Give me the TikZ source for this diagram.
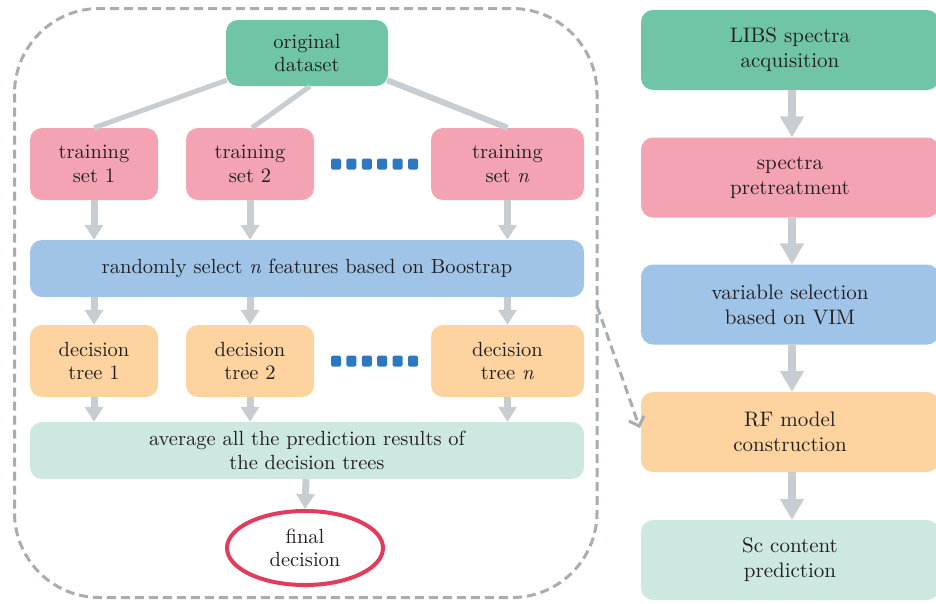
\documentclass[tikz,border=0pt]{standalone}
\usepackage{fontspec}
\setmainfont{lmroman10-regular}[Extension=.otf, ItalicFont=lmroman10-italic, BoldFont=lmroman10-bold]
\usetikzlibrary{arrows.meta,shapes.geometric,calc}
\definecolor{cgreen}{HTML}{6FC5A5}
\definecolor{cpink}{HTML}{F4A3B3}
\definecolor{cblue}{HTML}{9FC4E8}
\definecolor{corange}{HTML}{FDD4A0}
\definecolor{cteal}{HTML}{CDE8E0}
\definecolor{garrow}{HTML}{C8CDD2}
\definecolor{gdash}{HTML}{A9ADB1}
\definecolor{cdots}{HTML}{2E78C2}
\definecolor{cred}{HTML}{E23B5C}
\definecolor{ctext}{HTML}{231F20}
\tikzset{
  box/.style={rounded corners=12pt, inner sep=0pt, align=center,
    font=\fontsize{20.5}{23.5}\selectfont, text=ctext},
  rbox/.style={box, font=\fontsize{21}{25}\selectfont},
  gline/.style={draw=garrow, line width=5pt},
  garr/.style={draw=garrow, line width=7pt, -{Triangle[width=18pt,length=15pt]}},
  rarr/.style={draw=garrow, line width=8pt, -{Triangle[width=23pt,length=21pt]}},
  dotsq/.style={fill=cdots, rounded corners=1.5pt, minimum width=10pt, minimum height=11pt, inner sep=0pt},
}
\begin{document}
\begin{tikzpicture}[x=1pt,y=-1pt]
\useasboundingbox (0,0) rectangle (936,603);
% dashed frame
\draw[gdash, line width=3pt, dash pattern=on 9pt off 5pt, rounded corners=85pt]
  (14.5,8.5) rectangle (597,597.5);
% left part
\node[box, fill=cgreen, minimum width=162pt, minimum height=66pt] (orig) at (307,53) {original\\dataset};
\node[box, fill=cpink, minimum width=128pt, minimum height=72pt] (ts1) at (94,164) {training\\set 1};
\node[box, fill=cpink, minimum width=128pt, minimum height=72pt] (ts2) at (250,164) {training\\set 2};
\node[box, fill=cpink, minimum width=153pt, minimum height=72pt] (tsn) at (507.5,164) {training\\set \textit{n}};
\node[box, fill=cblue, minimum width=554pt, minimum height=57pt] (rand) at (307,268.5) {randomly select \textit{n} features based on Boostrap};
\node[box, fill=corange, minimum width=128pt, minimum height=72pt] (dt1) at (94,361) {decision\\tree 1};
\node[box, fill=corange, minimum width=128pt, minimum height=72pt] (dt2) at (250,361) {decision\\tree 2};
\node[box, fill=corange, minimum width=153pt, minimum height=72pt] (dtn) at (507.5,361) {decision\\tree \textit{n}};
\node[box, fill=cteal, minimum width=554pt, minimum height=57pt] (avg) at (307,450.5) {average all the prediction results of\\the decision trees};
\node[ellipse, draw=cred, line width=4pt, minimum width=156pt, minimum height=74pt, inner sep=0pt,
  align=center, font=\fontsize{20.5}{23.5}\selectfont, text=ctext] (final) at (305,548) {final\\decision};
% dots
\foreach \i in {0,...,5}{
  \node[dotsq] (dta\i) at (336+15.4*\i,164) {};
  \node[dotsq] (dtb\i) at (336+15.4*\i,361) {};
}
% connectors left
\draw[gline] ($(orig.south west)+(1,-6)$) -- (ts1.north);
\draw[gline] ($(orig.south)+(3,0)$) -- ($(ts2.north)+(2,0)$);
\draw[gline, line width=6pt] ($(orig.south east)+(-1,-6)$) -- (tsn.north);
\foreach \a/\b in {ts1/rand,ts2/rand,tsn/rand,dt1/avg,dt2/avg,dtn/avg}{
  \draw[garr] (\a.south) -- (\a.south |- \b.north);
}
\foreach \a/\b in {rand/dt1,rand/dt2,rand/dtn}{
  \draw[garr] (\b.north |- \a.south) -- (\b.north);
}
\draw[garr] ($(avg.south)+(-1,0)$) -- ($(final.north)+(0,0)$);
% right column
\node[rbox, fill=cgreen, minimum width=298pt, minimum height=80pt] (libs) at (790,50) {LIBS spectra\\acquisition};
\node[rbox, fill=cpink, minimum width=298pt, minimum height=80pt] (pre) at (790,177.5) {spectra\\pretreatment};
\node[rbox, fill=cblue, minimum width=298pt, minimum height=80pt] (vim) at (790,304.5) {variable selection\\based on VIM};
\node[rbox, fill=corange, minimum width=298pt, minimum height=80pt] (rf) at (790,432) {RF model\\construction};
\node[rbox, fill=cteal, minimum width=298pt, minimum height=80pt] (sc) at (790,560) {Sc content\\prediction};
\foreach \a/\b in {libs/pre,pre/vim,vim/rf,rf/sc}{
  \draw[rarr] ($(\a.south)+(2,0)$) -- ($(\b.north)+(2,0)$);
}
% dashed arrow
\coordinate (dstart) at (597,306);
\draw[gdash, line width=3pt, dash pattern=on 9pt off 5pt, -{Straight Barb[length=8pt,width=16pt]}]
  (dstart) -- ($(rf.west)+(-1,-4)$);
\end{tikzpicture}
\end{document}
